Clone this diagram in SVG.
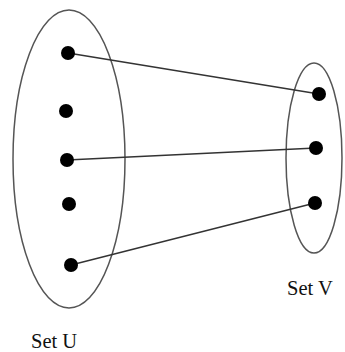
<svg xmlns="http://www.w3.org/2000/svg" width="345" height="352" viewBox="0 0 345 352">
<style>
.set{fill:none;stroke:#555;stroke-width:1.5}
.dot{fill:#000}
.edge{stroke:#333;stroke-width:1.4;fill:none}
.lbl{font-family:"Liberation Serif",serif;font-size:20.5px;fill:#111}
</style>
<rect width="345" height="352" fill="#fff"/>
<g id="setU">
<ellipse class="set" cx="69" cy="159" rx="56" ry="149"/>
<text class="lbl" x="31" y="348">Set U</text>
</g>
<g id="setV">
<ellipse class="set" cx="314" cy="158" rx="28" ry="95"/>
<text class="lbl" x="287" y="295">Set V</text>
</g>
<g id="connectors">
<line class="edge" x1="68" y1="53" x2="319" y2="94"/>
<line class="edge" x1="67" y1="160" x2="316" y2="148"/>
<line class="edge" x1="71" y1="265" x2="315" y2="203"/>
</g>
<g id="u1"><circle class="dot" cx="68" cy="53" r="7"/></g>
<g id="u2"><circle class="dot" cx="66" cy="111" r="7"/></g>
<g id="u3"><circle class="dot" cx="67" cy="160" r="7"/></g>
<g id="u4"><circle class="dot" cx="69" cy="204" r="7"/></g>
<g id="u5"><circle class="dot" cx="71" cy="265" r="7"/></g>
<g id="v1"><circle class="dot" cx="319" cy="94" r="7"/></g>
<g id="v2"><circle class="dot" cx="316" cy="148" r="7"/></g>
<g id="v3"><circle class="dot" cx="315" cy="203" r="7"/></g>
</svg>
